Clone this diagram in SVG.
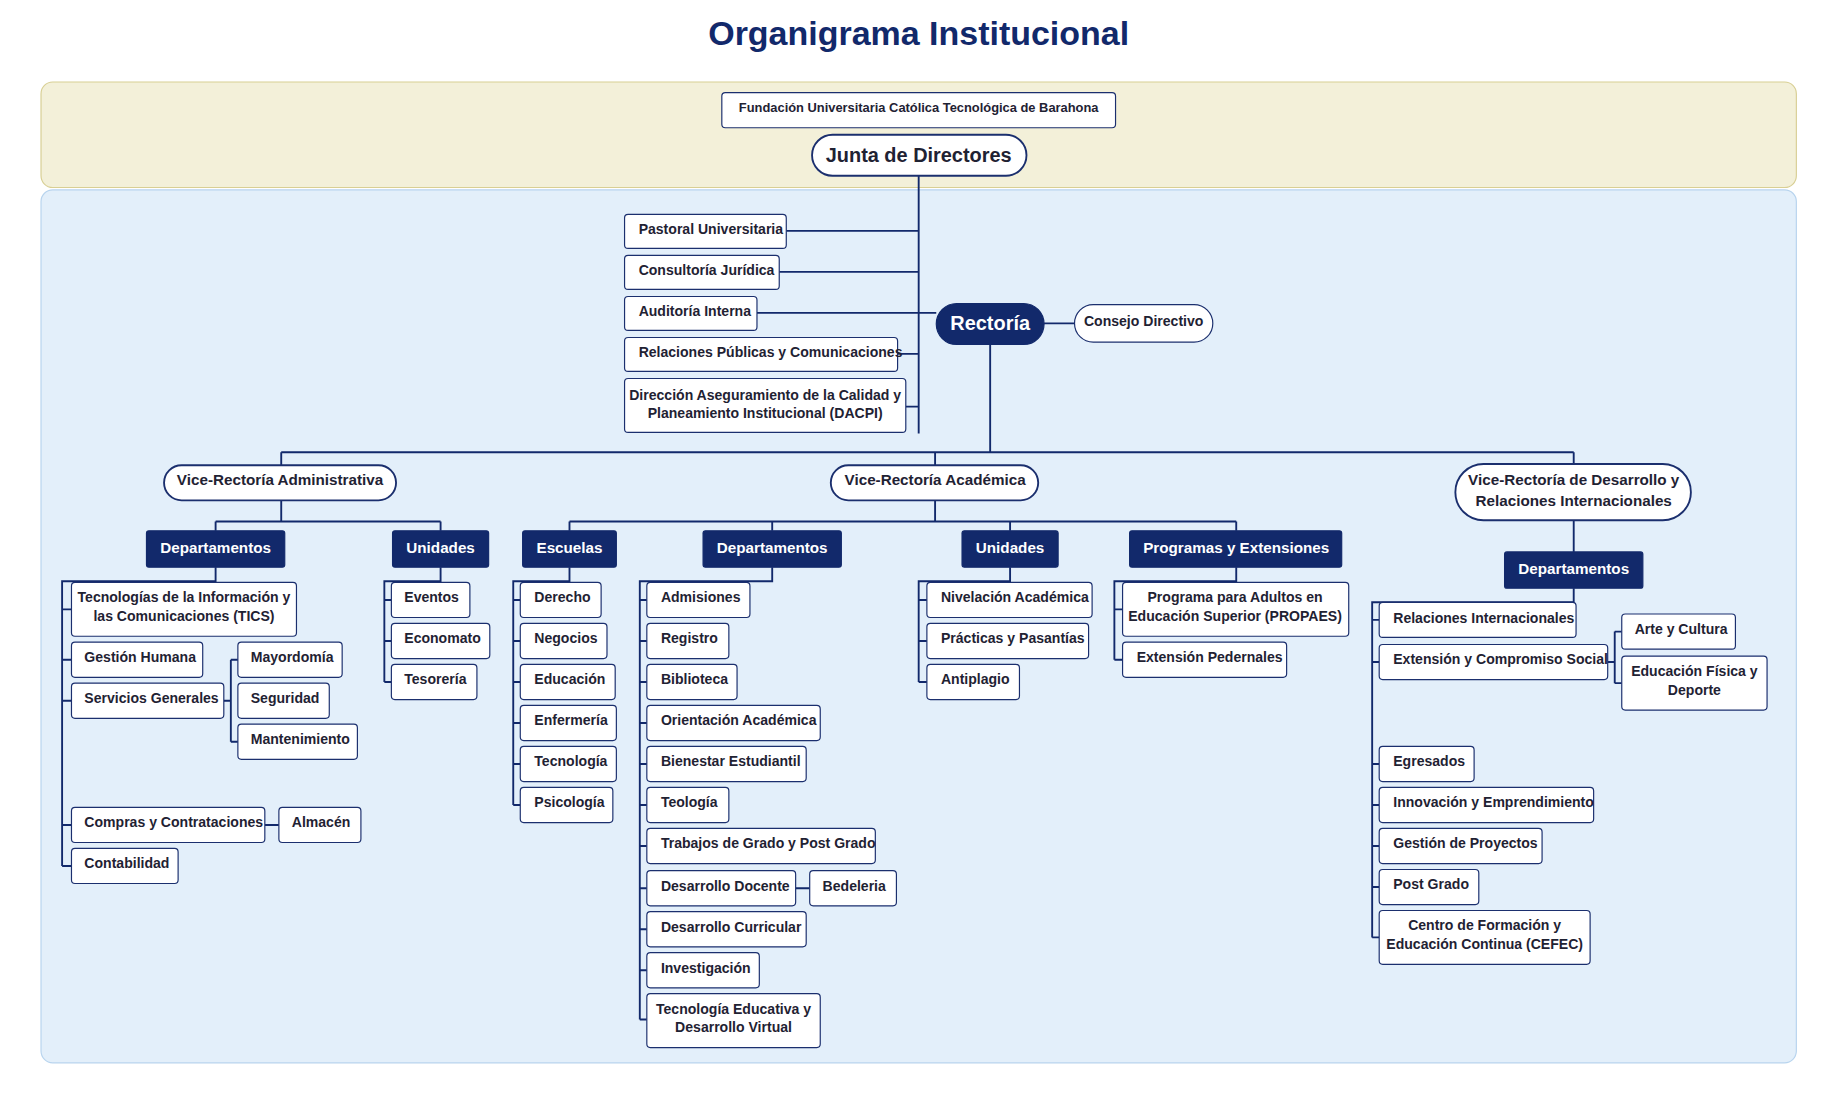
<svg xmlns="http://www.w3.org/2000/svg" width="1828" height="1117" viewBox="0 0 1828 1117">
<style>
.b{fill:#fff;stroke:#1b2f6e;stroke-width:1}
.d{fill:#12296b;stroke:#12296b}
.p{fill:#fff;stroke:#1b2f6e;stroke-width:1.6}
text{font-family:"Liberation Sans",Arial,sans-serif;font-weight:bold;font-size:12px;fill:#1f2233}
.c{text-anchor:middle}
.w{fill:#fff;font-size:13px}
.l{fill:none;stroke:#12296b;stroke-width:1.6}
</style>
<rect width="1828" height="1117" fill="#fff"/>
<g transform="scale(1.17179)">
<text x="784" y="38" class="c" style="font-size:29px;fill:#12296b">Organigrama Institucional</text>
<rect x="35" y="70" width="1498" height="90" rx="10" fill="#f3f0d9" stroke="#d8cf94"/>
<rect x="35" y="162" width="1498" height="745" rx="10" fill="#e3effa" stroke="#b8d4ee"/>
<g id="connectors" class="l">
<path d="M784 150V370M671 197H784M665 232H784M646 267H799M766 302H784M773 347H784M891 276H917"/>
<path d="M845 294V386M240 386H1343M240 386V397M798 386V397M1343 386V396"/>
<path d="M240 427V445M184 445H376M184 445V453M376 445V453"/>
<path d="M798 427V445M486 445H1055M486 445V453M659 445V453M862 445V453M1055 445V453"/>
<path d="M1343 444V471"/>
<path d="M184 484V496H53V739M53 520H61M53 563H61M53 598H61M53 704H61M53 739H61M191 598H197M197 563V633M197 563H203M197 633H203M226 704H238"/>
<path d="M376 484V496H328V582M328 512H334M328 547H334M328 582H334"/>
<path d="M486 484V496H438V687M438 512H444M438 547H444M438 582H444M438 617H444M438 652H444M438 687H444"/>
<path d="M659 484V496H546V870M546 512H552M546 547H552M546 582H552M546 617H552M546 652H552M546 687H552M546 722H552M546 758H552M546 793H552M546 828H552M546 870H552M679 758H691"/>
<path d="M862 484V496H784V582M784 512H791M784 547H791M784 582H791"/>
<path d="M1055 484V496H951V563M951 520H958M951 563H958"/>
<path d="M1343 502V514H1171V800M1171 529H1177M1171 565H1177M1171 652H1177M1171 687H1177M1171 722H1177M1171 757H1177M1171 800H1177M1372 565H1378M1378 539V583M1378 539H1384M1378 583H1384"/>
</g>
<g id="top"><rect class="b" x="616" y="79" width="336" height="30" rx="3"/><text x="784" y="96" class="c" style="font-size:11px">Fundación Universitaria Católica Tecnológica de Barahona</text></g>
<g id="junta"><rect class="p" x="693" y="115" width="183" height="35" rx="17.5"/><text x="784" y="138" class="c" style="font-size:17px">Junta de Directores</text></g>
<g id="rectoria"><rect class="d" x="799" y="259" width="92" height="35" rx="17.5"/><text x="845" y="282" class="c w" style="font-size:17px">Rectoría</text></g>
<g id="consejo"><rect class="b" x="917" y="260" width="118" height="32" rx="16"/><text x="976" y="278" class="c">Consejo Directivo</text></g>
<g id="staff">
<rect class="b" x="533" y="183" width="138" height="29" rx="3"/><text x="545" y="200">Pastoral Universitaria</text>
<rect class="b" x="533" y="218" width="132" height="29" rx="3"/><text x="545" y="235">Consultoría Jurídica</text>
<rect class="b" x="533" y="253" width="113" height="29" rx="3"/><text x="545" y="270">Auditoría Interna</text>
<rect class="b" x="533" y="288" width="233" height="29" rx="3"/><text x="545" y="305">Relaciones Públicas y Comunicaciones</text>
<rect class="b" x="533" y="323" width="240" height="46" rx="3"/><text x="653" y="341" class="c">Dirección Aseguramiento de la Calidad y</text><text x="653" y="357" class="c">Planeamiento Institucional (DACPI)</text>
</g>
<g id="vra"><rect class="p" x="140" y="397" width="198" height="30" rx="15"/><text x="239" y="414" class="c" style="font-size:13px">Vice-Rectoría Administrativa</text></g>
<g id="vrac"><rect class="p" x="709" y="397" width="177" height="30" rx="15"/><text x="798" y="414" class="c" style="font-size:13px">Vice-Rectoría Académica</text></g>
<g id="vrd"><rect class="p" x="1242" y="396" width="201" height="48" rx="24"/><text x="1343" y="414" class="c" style="font-size:13px">Vice-Rectoría de Desarrollo y</text><text x="1343" y="432" class="c" style="font-size:13px">Relaciones Internacionales</text></g>
<g id="heads">
<rect class="d" x="125" y="453" width="118" height="31" rx="2"/><text x="184" y="472" class="c w">Departamentos</text>
<rect class="d" x="335" y="453" width="82" height="31" rx="2"/><text x="376" y="472" class="c w">Unidades</text>
<rect class="d" x="446" y="453" width="80" height="31" rx="2"/><text x="486" y="472" class="c w">Escuelas</text>
<rect class="d" x="600" y="453" width="118" height="31" rx="2"/><text x="659" y="472" class="c w">Departamentos</text>
<rect class="d" x="821" y="453" width="82" height="31" rx="2"/><text x="862" y="472" class="c w">Unidades</text>
<rect class="d" x="964" y="453" width="181" height="31" rx="2"/><text x="1055" y="472" class="c w">Programas y Extensiones</text>
<rect class="d" x="1284" y="471" width="118" height="31" rx="2"/><text x="1343" y="490" class="c w">Departamentos</text>
</g>
<g id="admin-dept">
<rect class="b" x="61" y="497" width="192" height="46" rx="3"/><text x="157" y="514" class="c">Tecnologías de la Información y</text><text x="157" y="530" class="c">las Comunicaciones (TICS)</text>
<rect class="b" x="61" y="548" width="112" height="30" rx="3"/><text x="72" y="565">Gestión Humana</text>
<rect class="b" x="61" y="583" width="130" height="30" rx="3"/><text x="72" y="600">Servicios Generales</text>
<rect class="b" x="61" y="689" width="165" height="30" rx="3"/><text x="72" y="706">Compras y Contrataciones</text>
<rect class="b" x="61" y="724" width="91" height="30" rx="3"/><text x="72" y="741">Contabilidad</text>
<rect class="b" x="203" y="548" width="89" height="30" rx="3"/><text x="214" y="565">Mayordomía</text>
<rect class="b" x="203" y="583" width="78" height="30" rx="3"/><text x="214" y="600">Seguridad</text>
<rect class="b" x="203" y="618" width="102" height="30" rx="3"/><text x="214" y="635">Mantenimiento</text>
<rect class="b" x="238" y="689" width="70" height="30" rx="3"/><text x="249" y="706">Almacén</text>
</g>
<g id="admin-unid">
<rect class="b" x="334" y="497" width="67" height="30" rx="3"/><text x="345" y="514">Eventos</text>
<rect class="b" x="334" y="532" width="84" height="30" rx="3"/><text x="345" y="549">Economato</text>
<rect class="b" x="334" y="567" width="73" height="30" rx="3"/><text x="345" y="584">Tesorería</text>
</g>
<g id="escuelas">
<rect class="b" x="444" y="497" width="69" height="30" rx="3"/><text x="456" y="514">Derecho</text>
<rect class="b" x="444" y="532" width="74" height="30" rx="3"/><text x="456" y="549">Negocios</text>
<rect class="b" x="444" y="567" width="81" height="30" rx="3"/><text x="456" y="584">Educación</text>
<rect class="b" x="444" y="602" width="82" height="30" rx="3"/><text x="456" y="619">Enfermería</text>
<rect class="b" x="444" y="637" width="82" height="30" rx="3"/><text x="456" y="654">Tecnología</text>
<rect class="b" x="444" y="672" width="79" height="30" rx="3"/><text x="456" y="689">Psicología</text>
</g>
<g id="acad-dept">
<rect class="b" x="552" y="497" width="88" height="30" rx="3"/><text x="564" y="514">Admisiones</text>
<rect class="b" x="552" y="532" width="70" height="30" rx="3"/><text x="564" y="549">Registro</text>
<rect class="b" x="552" y="567" width="77" height="30" rx="3"/><text x="564" y="584">Biblioteca</text>
<rect class="b" x="552" y="602" width="148" height="30" rx="3"/><text x="564" y="619">Orientación Académica</text>
<rect class="b" x="552" y="637" width="136" height="30" rx="3"/><text x="564" y="654">Bienestar Estudiantil</text>
<rect class="b" x="552" y="672" width="70" height="30" rx="3"/><text x="564" y="689">Teología</text>
<rect class="b" x="552" y="707" width="195" height="30" rx="3"/><text x="564" y="724">Trabajos de Grado y Post Grado</text>
<rect class="b" x="552" y="743" width="127" height="30" rx="3"/><text x="564" y="760">Desarrollo Docente</text>
<rect class="b" x="552" y="778" width="136" height="30" rx="3"/><text x="564" y="795">Desarrollo Curricular</text>
<rect class="b" x="552" y="813" width="96" height="30" rx="3"/><text x="564" y="830">Investigación</text>
<rect class="b" x="552" y="848" width="148" height="46" rx="3"/><text x="626" y="865" class="c">Tecnología Educativa y</text><text x="626" y="881" class="c">Desarrollo Virtual</text>
<rect class="b" x="691" y="743" width="74" height="30" rx="3"/><text x="702" y="760">Bedeleria</text>
</g>
<g id="acad-unid">
<rect class="b" x="791" y="497" width="141" height="30" rx="3"/><text x="803" y="514">Nivelación Académica</text>
<rect class="b" x="791" y="532" width="138" height="30" rx="3"/><text x="803" y="549">Prácticas y Pasantías</text>
<rect class="b" x="791" y="567" width="79" height="30" rx="3"/><text x="803" y="584">Antiplagio</text>
</g>
<g id="programas">
<rect class="b" x="958" y="497" width="193" height="46" rx="3"/><text x="1054" y="514" class="c">Programa para Adultos en</text><text x="1054" y="530" class="c">Educación Superior (PROPAES)</text>
<rect class="b" x="958" y="548" width="140" height="30" rx="3"/><text x="970" y="565">Extensión Pedernales</text>
</g>
<g id="vrd-dept">
<rect class="b" x="1177" y="514" width="168" height="30" rx="3"/><text x="1189" y="532">Relaciones Internacionales</text>
<rect class="b" x="1177" y="550" width="195" height="30" rx="3"/><text x="1189" y="567">Extensión y Compromiso Social</text>
<rect class="b" x="1177" y="637" width="81" height="30" rx="3"/><text x="1189" y="654">Egresados</text>
<rect class="b" x="1177" y="672" width="183" height="30" rx="3"/><text x="1189" y="689">Innovación y Emprendimiento</text>
<rect class="b" x="1177" y="707" width="139" height="30" rx="3"/><text x="1189" y="724">Gestión de Proyectos</text>
<rect class="b" x="1177" y="742" width="85" height="30" rx="3"/><text x="1189" y="759">Post Grado</text>
<rect class="b" x="1177" y="777" width="180" height="46" rx="3"/><text x="1267" y="794" class="c">Centro de Formación y</text><text x="1267" y="810" class="c">Educación Continua (CEFEC)</text>
<rect class="b" x="1384" y="524" width="97" height="30" rx="3"/><text x="1395" y="541">Arte y Cultura</text>
<rect class="b" x="1384" y="560" width="124" height="46" rx="3"/><text x="1446" y="577" class="c">Educación Física y</text><text x="1446" y="593" class="c">Deporte</text>
</g>
</g>
</svg>
